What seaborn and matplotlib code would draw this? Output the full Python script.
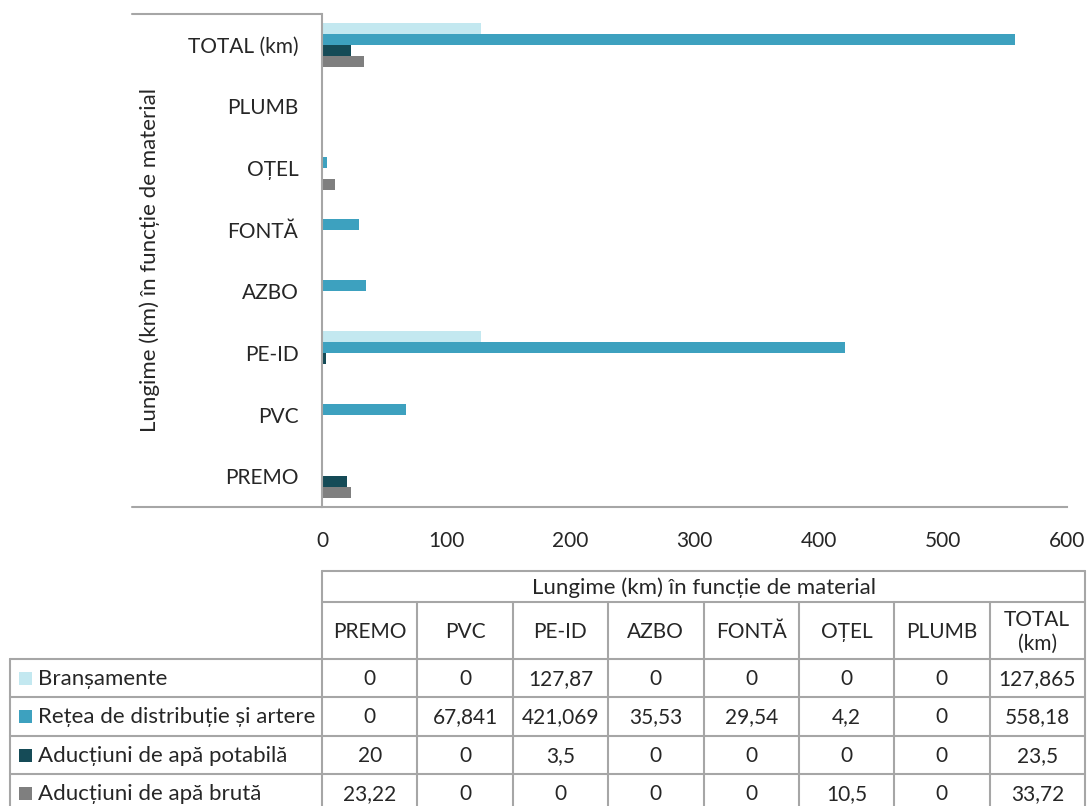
import pandas as pd
import seaborn as sns
import matplotlib.pyplot as plt
from matplotlib.patches import Rectangle

materials = ['PREMO', 'PVC', 'PE-ID', 'AZBO', 'FONTĂ', 'OȚEL', 'PLUMB', 'TOTAL (km)']
header_labels = ['PREMO', 'PVC', 'PE-ID', 'AZBO', 'FONTĂ', 'OȚEL', 'PLUMB', 'TOTAL\n(km)']
series_names = ['Branșamente', 'Rețea de distribuție și artere',
                'Aducțiuni de apă potabilă', 'Aducțiuni de apă brută']
bransamente = [0, 0, 127.87, 0, 0, 0, 0, 127.865]
retea = [0, 67.841, 421.069, 35.53, 29.54, 4.2, 0, 558.18]
potabila = [20, 0, 3.5, 0, 0, 0, 0, 23.5]
bruta = [23.22, 0, 0, 0, 0, 10.5, 0, 33.72]
colors = ['#C3E8F0', '#3DA1BF', '#154B57', '#7F7F7F']
x_ticks = [0, 100, 200, 300, 400, 500, 600]

table_title = 'Lungime (km) în funcție de material'

series_values = [bransamente, retea, potabila, bruta]
rows = []
for name, vals in zip(series_names, series_values):
    for m, v in zip(materials, vals):
        rows.append({'material': m, 'serie': name, 'km': v})
df = pd.DataFrame(rows)

sns.set_style('white')
plt.rcParams['font.family'] = ['Lato', 'DejaVu Sans']
FS = 15      # upper-case labels / numbers
FS_TXT = 16  # mixed-case text
GRID = '#A6A6A6'

W, H = 1087, 806
fig = plt.figure(figsize=(W / 100, H / 100), dpi=100)

# background layer in pixel coords for table + axis extensions
tab = fig.add_axes([0, 0, 1, 1])
tab.set_xlim(0, W)
tab.set_ylim(H, 0)
tab.axis('off')

# plot area (pixels)
px_left, px_right, px_top, px_bottom = 322, 1067, 14, 507
ax = fig.add_axes([px_left / W, 1 - px_bottom / H,
                   (px_right - px_left) / W, (px_bottom - px_top) / H])
ax.set_facecolor('none')

sns.barplot(data=df, y='material', x='km', hue='serie',
            order=materials[::-1], hue_order=series_names,
            palette=colors, saturation=1, orient='h', width=0.714,
            errorbar=None, linewidth=0, legend=False, ax=ax)

ax.set_xlim(0, 600)
ax.set_xticks(x_ticks)
ax.set_xticklabels([str(t) for t in x_ticks], fontsize=FS)
ax.tick_params(axis='x', length=0, pad=17)
ax.tick_params(axis='y', length=0, pad=17, labelsize=FS)
ax.set_xlabel('')
ax.set_ylabel(table_title, fontsize=FS_TXT)
ax.yaxis.set_label_coords(-0.217, 0.5)
for s in ['top', 'right']:
    ax.spines[s].set_visible(False)
for s in ['left', 'bottom']:
    ax.spines[s].set_color(GRID)
    ax.spines[s].set_linewidth(1.5)
ax.grid(False)

# axis extensions into label area
tab.plot([132, px_left], [px_top, px_top], color=GRID, lw=1.5)
tab.plot([132, px_left], [px_bottom, px_bottom], color=GRID, lw=1.5)

# data table
t_left, t_right = 322, 1085
leg_left = 10
y_top, y_hdr, y_hdr2 = 571, 602, 659
row_h = 38.3
n = len(materials)
col_w = (t_right - t_left) / n
y_rows = [y_hdr2 + i * row_h for i in range(len(series_names) + 1)]

lw = 1.5
tab.plot([t_left, t_right], [y_top, y_top], color=GRID, lw=lw)
tab.plot([t_left, t_right], [y_hdr, y_hdr], color=GRID, lw=lw)
for y in y_rows:
    tab.plot([leg_left, t_right], [y, y], color=GRID, lw=lw)
tab.plot([t_left, t_left], [y_top, H], color=GRID, lw=lw)
tab.plot([t_right, t_right], [y_top, H], color=GRID, lw=lw)
tab.plot([leg_left, leg_left], [y_hdr2, H], color=GRID, lw=lw)
for i in range(1, n):
    x = t_left + i * col_w
    tab.plot([x, x], [y_hdr, H], color=GRID, lw=lw)

tab.text((t_left + t_right) / 2, (y_top + y_hdr) / 2 + 1, table_title,
         ha='center', va='center', fontsize=FS_TXT)
for i, lab in enumerate(header_labels):
    tab.text(t_left + (i + 0.5) * col_w, (y_hdr + y_hdr2) / 2 + 1, lab,
             ha='center', va='center', fontsize=FS, linespacing=1.25)


def fmt(v):
    return format(v, 'g').replace('.', ',')


for r, (name, vals, c) in enumerate(zip(series_names, series_values, colors)):
    yc = y_rows[r] + row_h / 2 + 1
    tab.add_patch(Rectangle((19, yc - 7), 13, 13, color=c, lw=0))
    tab.text(38, yc, name, ha='left', va='center', fontsize=FS_TXT)
    for i, v in enumerate(vals):
        tab.text(t_left + (i + 0.5) * col_w, yc, fmt(v),
                 ha='center', va='center', fontsize=FS)

plt.savefig('out.png', dpi=100)
